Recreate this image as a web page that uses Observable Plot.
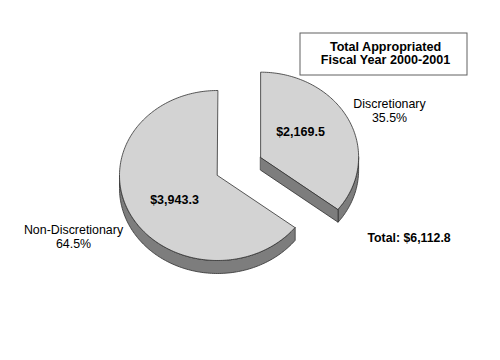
<!DOCTYPE html>
<html>
<head>
<meta charset="utf-8">
<script src="https://cdn.jsdelivr.net/npm/d3@7"></script>
<script src="https://cdn.jsdelivr.net/npm/@observablehq/plot@0.6"></script>
<style>
  html, body { margin: 0; padding: 0; background: #fff; }
</style>
</head>
<body>
<div id="chart"></div>
<script>
// ---- data ----
const categories = ["Discretionary", "Non-Discretionary"];
const amounts = [2169.5, 3943.3];
const amountLabels = ["$2,169.5", "$3,943.3"];
const percentLabels = ["35.5%", "64.5%"];
const totalLabel = "Total: $6,112.8";
const titleLines = ["Total Appropriated", "Fiscal Year 2000-2001"];

// ---- layout (pixel-like coordinate space) ----
const W = 500, H = 360;
const cx = 217, cy = 175, rx = 98, ry = 85, depth = 13;
const explode = [0.49, 0]; // per-slice explode fraction
const topColor = "#d3d3d3", sideColor = "#7d7d7d", edge = "#303030";

const arcs = d3.pie().sort(null).value(d => d)(amounts);

function pt(c, a, dz = 0) {
  return {x: c.x + rx * Math.sin(a), y: c.y - ry * Math.cos(a) + dz};
}
function arcPts(c, a0, a1, dz = 0) {
  const n = Math.max(2, Math.ceil((a1 - a0) / 0.02));
  return d3.range(n + 1).map(i => pt(c, a0 + (a1 - a0) * i / n, dz));
}

const walls = [], tops = [], centers = [];
arcs.forEach((arc, i) => {
  const mid = (arc.startAngle + arc.endAngle) / 2;
  const c = {
    x: cx + explode[i] * rx * Math.sin(mid),
    y: cy - explode[i] * ry * Math.cos(mid)
  };
  centers.push(c);
  const a0 = arc.startAngle, a1 = arc.endAngle;
  // outer wall (front half only)
  const v0 = Math.max(a0, Math.PI / 2), v1 = Math.min(a1, 3 * Math.PI / 2);
  if (v1 > v0) {
    const upper = arcPts(c, v0, v1);
    const lower = arcPts(c, v0, v1, depth).reverse();
    [...upper, ...lower].forEach(p => walls.push({...p, id: categories[i] + "-outer"}));
  }
  // radial wall at end angle
  if (Math.sin(a1) > 1e-6) {
    const e = pt(c, a1);
    [{x: c.x, y: c.y}, e, {x: e.x, y: e.y + depth}, {x: c.x, y: c.y + depth}]
      .forEach(p => walls.push({...p, id: categories[i] + "-end"}));
  }
  // radial wall at start angle
  if (Math.sin(a0) < -1e-6) {
    const e = pt(c, a0);
    [{x: c.x, y: c.y}, e, {x: e.x, y: e.y + depth}, {x: c.x, y: c.y + depth}]
      .forEach(p => walls.push({...p, id: categories[i] + "-start"}));
  }
  // top face
  [{x: c.x, y: c.y}, ...arcPts(c, a0, a1)].forEach(p => tops.push({...p, id: categories[i]}));
});

const amountPos = [{x: 300, y: 131}, {x: 174, y: 199}];
const catPos = [{x: 389, y: 110}, {x: 73, y: 236}];
const amountText = amounts.map((v, i) => ({label: amountLabels[i], ...amountPos[i]}));
const catText = categories.map((c, i) => ({label: c + "\n" + percentLabels[i], ...catPos[i]}));

const font = "Arial, 'Liberation Sans', sans-serif";

const chart = Plot.plot({
  width: W,
  height: H,
  margin: 0,
  x: {domain: [0, W], range: [0, W], axis: null},
  y: {domain: [0, H], range: [0, H], axis: null},
  style: {fontFamily: font, background: "#fff"},
  marks: [
    Plot.line(walls, {x: "x", y: "y", z: "id", fill: sideColor, stroke: edge, strokeWidth: 0.8, curve: "linear-closed"}),
    Plot.line(tops, {x: "x", y: "y", z: "id", fill: topColor, stroke: edge, strokeWidth: 0.8, curve: "linear-closed"}),
    Plot.text(amountText, {x: "x", y: "y", text: "label", fontSize: 12.5, fontWeight: "bold", fill: "#000"}),
    Plot.text(catText, {x: "x", y: "y", text: "label", fontSize: 12.4, lineHeight: 1.1, fill: "#000"}),
    Plot.text([totalLabel], {x: 367, y: 238, text: d => d, textAnchor: "start", fontSize: 12.3, fontWeight: "bold", fill: "#000"}),
    Plot.rect([titleLines], {x1: 300, x2: 467, y1: 33, y2: 75, fill: "#fff", stroke: "#606060", strokeWidth: 1}),
    Plot.text([titleLines.join("\n")], {x: 385, y: 53, text: d => d, fontSize: 12.6, fontWeight: "bold", lineHeight: 1.05, fill: "#000"})
  ]
});
document.getElementById("chart").appendChild(chart);
</script>
</body>
</html>
